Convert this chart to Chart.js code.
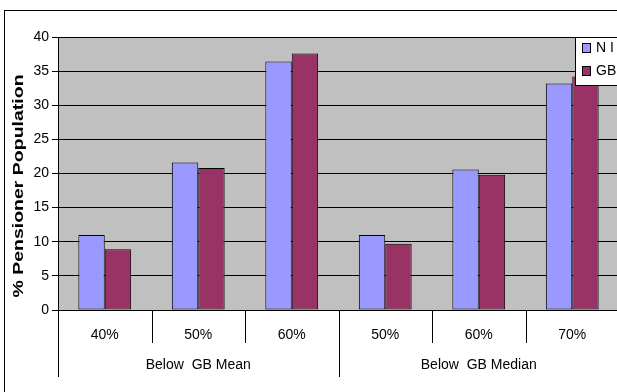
<!DOCTYPE html>
<html>
<head>
<meta charset="utf-8">
<script src="https://cdn.jsdelivr.net/npm/chart.js@4"></script>
<style>
  html, body { margin: 0; padding: 0; background: #fff; overflow: hidden; }
  #frame { width: 617px; height: 392px; overflow: hidden; position: relative; }
  #box { width: 640px; height: 400px; position: absolute; left: 0; top: 0; }
</style>
</head>
<body>
<div id="frame"><div id="box"><canvas id="chart"></canvas></div></div>
<script>
// Poverty thresholds, grouped by the GB benchmark they are measured against
const categories = ['40%', '50%', '60%', '50%', '60%', '70%'];
const groups = ['Below  GB Mean', 'Below  GB Median'];
const groupSizes = [3, 3];
const seriesNames = ['N I', 'GB'];
const niValues = [11.0, 21.6, 36.4, 11.0, 20.6, 33.2];
const gbValues = [8.9, 20.8, 37.6, 9.7, 19.8, 34.2];
const yTitle = '% Pensioner Population';

const FONT = "'Liberation Sans', Arial, sans-serif";
const colors = ['#9999FF', '#993366'];

// Outer frame, plot background, axis title, grouped axis labels and boxed legend
const excelLook = {
  id: 'excelLook',
  beforeDraw(chart) {
    const { ctx, chartArea: a } = chart;
    ctx.save();
    ctx.fillStyle = '#fff';
    ctx.fillRect(0, 0, chart.width, chart.height);
    ctx.strokeStyle = '#000';
    ctx.lineWidth = 1;
    ctx.strokeRect(4.5, 10.5, chart.width - 9, chart.height - 14);
    ctx.fillStyle = '#C0C0C0';
    ctx.fillRect(a.left, a.top, a.right - a.left, a.bottom - a.top);
    ctx.restore();
  },
  afterDraw(chart) {
    const { ctx, chartArea: a } = chart;
    const xs = chart.scales.x;
    ctx.save();
    // category separators below the axis
    const bounds = [a.left];
    for (let i = 1; i < categories.length; i++) {
      bounds.push((xs.getPixelForValue(i - 1) + xs.getPixelForValue(i)) / 2);
    }
    bounds.push(a.right);
    const groupEdges = [0];
    groupSizes.reduce((s, n) => { groupEdges.push(s + n); return s + n; }, 0);
    ctx.strokeStyle = '#000';
    ctx.lineWidth = 1;
    bounds.forEach((bx, i) => {
      const x = Math.round(bx) + 0.5;
      const long = groupEdges.includes(i);
      ctx.beginPath();
      ctx.moveTo(x, a.bottom);
      ctx.lineTo(x, a.bottom + (long ? 67 : 33));
      ctx.stroke();
    });
    // group labels
    ctx.fillStyle = '#000';
    ctx.font = '14px ' + FONT;
    ctx.textAlign = 'center';
    ctx.textBaseline = 'middle';
    for (let g = 0; g < groups.length; g++) {
      const l = bounds[groupEdges[g]];
      const r = bounds[groupEdges[g + 1]];
      ctx.fillText(groups[g], (l + r) / 2, a.bottom + 55);
    }
    // vertical axis title
    ctx.save();
    ctx.translate(23, 186);
    ctx.rotate(-Math.PI / 2);
    ctx.scale(1.3, 1);
    ctx.font = 'bold 15px ' + FONT;
    ctx.textAlign = 'center';
    ctx.textBaseline = 'alphabetic';
    ctx.fillText(yTitle, 0, 0);
    ctx.restore();
    // legend box
    const lx = 575.5, ly = 37.5;
    ctx.fillStyle = '#fff';
    ctx.fillRect(lx, ly, 60, 48);
    ctx.strokeRect(lx, ly, 60, 48);
    chart.data.datasets.forEach((ds, i) => {
      const cy = 48 + i * 23;
      ctx.fillStyle = ds.backgroundColor;
      ctx.fillRect(582.5, cy - 4.5, 8, 9);
      ctx.strokeRect(582.5, cy - 4.5, 8, 9);
      ctx.fillStyle = '#000';
      ctx.font = '14px ' + FONT;
      ctx.textAlign = 'left';
      ctx.textBaseline = 'middle';
      ctx.fillText(ds.label, 596, cy);
    });
    ctx.restore();
  }
};

new Chart(document.getElementById('chart'), {
  type: 'bar',
  data: {
    labels: categories,
    datasets: [
      { label: seriesNames[0], data: niValues, backgroundColor: colors[0] },
      { label: seriesNames[1], data: gbValues, backgroundColor: colors[1] }
    ].map(d => Object.assign(d, {
      borderColor: '#000', borderWidth: 1, borderSkipped: false,
      categoryPercentage: 0.565, barPercentage: 1.0
    }))
  },
  options: {
    responsive: true,
    maintainAspectRatio: false,
    animation: false,
    devicePixelRatio: 1,
    layout: { padding: { top: 37, right: 21, left: 0, bottom: 0 } },
    plugins: { legend: { display: false }, tooltip: { enabled: false } },
    scales: {
      x: {
        grid: { display: false },
        border: { display: true, color: '#000', width: 1 },
        ticks: { color: '#000', font: { family: FONT, size: 14 }, padding: 9, maxRotation: 0 },
        afterFit(scale) { scale.height = 90; }
      },
      y: {
        min: 0, max: 40,
        ticks: { stepSize: 5, color: '#000', font: { family: FONT, size: 14 }, padding: 3 },
        grid: { color: '#000', lineWidth: 1, tickLength: 6, drawTicks: true },
        border: { display: true, color: '#000', width: 1 },
        afterFit(scale) { scale.width = 58; }
      }
    }
  },
  plugins: [excelLook]
});
</script>
</body>
</html>
